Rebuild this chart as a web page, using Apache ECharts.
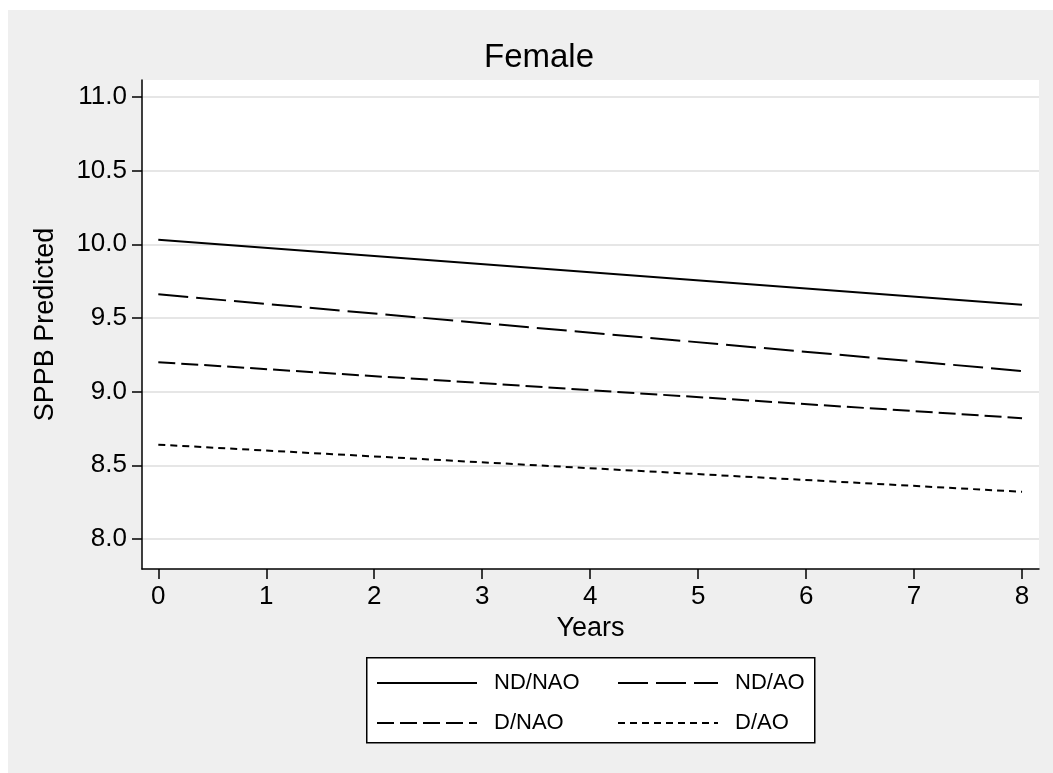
<!DOCTYPE html>
<html>
<head>
<meta charset="utf-8">
<script src="https://cdn.jsdelivr.net/npm/echarts@6/dist/echarts.min.js"></script>
<style>
html,body{margin:0;padding:0;background:#fff;}
#bg{position:absolute;left:8px;top:10px;width:1045px;height:763px;background:#efefef;}
#chart{position:absolute;left:0;top:0;width:1053px;height:773px;}
</style>
</head>
<body>
<div id="bg"></div>
<div id="chart"></div>
<script>
const years = [0, 8];
const xTicks = [0, 1, 2, 3, 4, 5, 6, 7, 8];
const yTicks = [8.0, 8.5, 9.0, 9.5, 10.0, 10.5, 11.0];
const seriesNames = ['ND/NAO', 'ND/AO', 'D/NAO', 'D/AO'];
const ndNao = [10.03, 9.59];
const ndAo = [9.66, 9.14];
const dNao = [9.20, 8.82];
const dAo = [8.64, 8.32];

const FONT = '"Liberation Sans", Arial, sans-serif';
const dashes = ['solid', [30, 8], [17, 6], [7, 5]];
const values = [ndNao, ndAo, dNao, dAo];

const chart = echarts.init(document.getElementById('chart'), null, {renderer: 'canvas'});
chart.setOption({
  backgroundColor: 'transparent',
  animation: false,
  title: {
    text: 'Female', left: 534, top: 36, textAlign: 'center',
    textStyle: {fontFamily: FONT, fontSize: 33, fontWeight: 'normal', color: '#000'}
  },
  grid: {
    left: 142, right: 14, top: 80, bottom: 204,
    show: true, backgroundColor: '#fff', borderWidth: 0, containLabel: false
  },
  xAxis: {
    type: 'value', min: -0.151, max: 8.157,
    name: 'Years', nameLocation: 'middle', nameGap: 44,
    nameTextStyle: {fontFamily: FONT, fontSize: 27, color: '#000'},
    axisLine: {show: true, onZero: false, lineStyle: {color: '#000', width: 1.5}},
    axisTick: {show: true, length: 10, lineStyle: {color: '#000', width: 1.5}, customValues: xTicks},
    axisLabel: {fontFamily: FONT, fontSize: 26, color: '#000', margin: 15, customValues: xTicks,
      formatter: v => String(v)},
    splitLine: {show: false}
  },
  yAxis: {
    type: 'value', min: 7.796, max: 11.115,
    name: 'SPPB Predicted', nameLocation: 'middle', nameGap: 83,
    nameTextStyle: {fontFamily: FONT, fontSize: 27, color: '#000'},
    axisLine: {show: true, onZero: false, lineStyle: {color: '#000', width: 1.5}},
    axisTick: {show: true, length: 10, lineStyle: {color: '#000', width: 1.5}, customValues: yTicks},
    axisLabel: {fontFamily: FONT, fontSize: 26, color: '#000', margin: 15, customValues: yTicks,
      formatter: v => v.toFixed(1)},
    splitLine: {show: true, lineStyle: {color: '#e6e6e6', width: 2}}
  },
  legend: {
    left: 371, top: 667, width: 470,
    z: 10,
    data: seriesNames,
    itemWidth: 100, itemHeight: 22, itemGap: 18,
    itemStyle: {opacity: 0, borderWidth: 0},
    textStyle: {fontFamily: FONT, fontSize: 22, color: '#000', width: 105, lineHeight: 22,
      padding: [0, 0, 0, 12]}
  },
  graphic: [{
    type: 'rect', z: 1, left: 366, top: 657,
    shape: {width: 448, height: 85},
    style: {fill: '#fff', stroke: '#000', lineWidth: 1.5}
  }],
  series: seriesNames.map((name, i) => ({
    name: name, type: 'line', symbol: 'none', showSymbol: false,
    data: years.map((x, j) => [x, values[i][j]]),
    lineStyle: {color: '#000', width: 2, type: dashes[i]},
    itemStyle: {color: '#000'}
  }))
});
</script>
</body>
</html>
